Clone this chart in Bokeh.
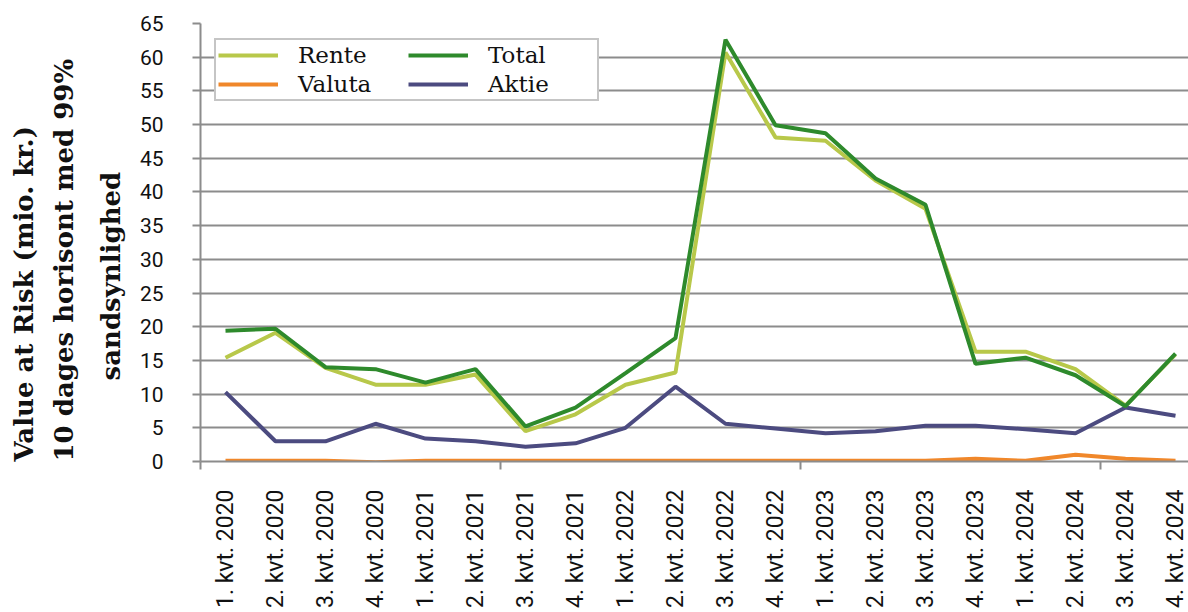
import math
from bokeh.plotting import figure
from bokeh.models import Range1d, FixedTicker, Legend, LegendItem, Title
from bokeh.embed import file_html
from bokeh.resources import INLINE

categories = ["1. kvt. 2020", "2. kvt. 2020", "3. kvt. 2020", "4. kvt. 2020",
              "1. kvt. 2021", "2. kvt. 2021", "3. kvt. 2021", "4. kvt. 2021",
              "1. kvt. 2022", "2. kvt. 2022", "3. kvt. 2022", "4. kvt. 2022",
              "1. kvt. 2023", "2. kvt. 2023", "3. kvt. 2023", "4. kvt. 2023",
              "1. kvt. 2024", "2. kvt. 2024", "3. kvt. 2024", "4. kvt. 2024"]
rente = [15.4, 19.1, 13.9, 11.4, 11.4, 12.9, 4.5, 7.0, 11.4, 13.2,
         60.7, 48.1, 47.6, 41.7, 37.5, 16.3, 16.3, 13.7, 8.3, 15.9]
total = [19.4, 19.7, 14.0, 13.7, 11.7, 13.7, 5.2, 8.0, 13.1, 18.3,
         62.6, 49.9, 48.7, 42.0, 38.1, 14.5, 15.4, 12.8, 8.2, 16.0]
valuta = [0.1, 0.1, 0.1, -0.1, 0.1, 0.1, 0.1, 0.1, 0.1, 0.1,
          0.1, 0.1, 0.1, 0.1, 0.1, 0.4, 0.1, 1.0, 0.4, 0.1]
aktie = [10.3, 3.0, 3.0, 5.6, 3.4, 3.0, 2.2, 2.7, 5.0, 11.1,
         5.6, 4.9, 4.2, 4.5, 5.3, 5.3, 4.8, 4.2, 8.0, 6.8]
y_ticks = list(range(0, 70, 5))
ylabel_lines = ["Value at Risk (mio. kr.)", "10 dages horisont med 99%", "sandsynlighed"]

x = list(range(len(categories)))

p = figure(width=1188, height=612, output_backend="svg", toolbar_location=None,
           x_range=Range1d(-0.5, 19.26), y_range=Range1d(0, 65),
           min_border_left=200, min_border_right=0, min_border_top=23, min_border_bottom=151)
p.outline_line_color = None
p.background_fill_color = "white"

grid_col = "#8c8c8c"
p.xgrid.grid_line_color = None
p.ygrid.grid_line_color = grid_col
p.ygrid.grid_line_width = 2
p.ygrid.ticker = FixedTicker(ticks=y_ticks)

p.yaxis.ticker = FixedTicker(ticks=y_ticks)
p.yaxis.axis_line_color = grid_col
p.yaxis.axis_line_width = 2
p.yaxis.major_tick_line_color = grid_col
p.yaxis.major_tick_line_width = 2
p.yaxis.major_tick_in = 0
p.yaxis.major_tick_out = 8
p.yaxis.minor_tick_line_color = None
p.yaxis.major_label_standoff = 29
p.yaxis.major_label_text_font = "Roboto"
p.yaxis.major_label_text_font_size = "21px"
p.yaxis.major_label_text_color = "#111111"

# y-axis title: one Title per line, innermost first
title_offsets = [0, 0, 81]
title_standoffs = [8, 8, 22]
for txt, off, so in reversed(list(zip(ylabel_lines, title_offsets, title_standoffs))):
    p.add_layout(Title(text=txt, align="left", offset=off,
                       text_font="DejaVu Serif", text_font_style="bold",
                       text_font_size="26px", text_color="#111111",
                       standoff=so), "left")

p.xaxis.ticker = FixedTicker(ticks=x, minor_ticks=[-0.5, 5.5, 11.5, 17.5])
p.xaxis.major_label_overrides = {i: c for i, c in enumerate(categories)}
p.xaxis.major_label_orientation = math.pi / 2
p.xaxis.axis_line_color = grid_col
p.xaxis.axis_line_width = 2
p.xaxis.major_tick_line_color = None
p.xaxis.major_tick_in = 0
p.xaxis.major_tick_out = 0
p.xaxis.minor_tick_line_color = grid_col
p.xaxis.minor_tick_line_width = 2
p.xaxis.minor_tick_in = 0
p.xaxis.minor_tick_out = 8
p.xaxis.major_label_standoff = 20
p.xaxis.major_label_text_font = "Roboto"
p.xaxis.major_label_text_font_size = "23px"
p.xaxis.major_label_text_color = "#111111"

c_rente = "#b8c84a"
c_total = "#2e8a2c"
c_valuta = "#f0872a"
c_aktie = "#4c4b80"

lw = 4
r_val = p.line(x, valuta, line_color=c_valuta, line_width=lw)
r_akt = p.line(x, aktie, line_color=c_aktie, line_width=lw)
r_ren = p.line(x, rente, line_color=c_rente, line_width=lw)
r_tot = p.line(x, total, line_color=c_total, line_width=lw)

legend = Legend(items=[LegendItem(label="Rente", renderers=[r_ren]),
                       LegendItem(label="Total", renderers=[r_tot]),
                       LegendItem(label="Valuta", renderers=[r_val]),
                       LegendItem(label="Aktie", renderers=[r_akt])],
                orientation="horizontal", ncols=2,
                location=(14, 360), padding=2, spacing=3, margin=0,
                glyph_width=60, glyph_height=24, label_standoff=20,
                label_width=107, label_height=24,
                label_text_font="DejaVu Serif", label_text_font_size="23px",
                label_text_color="#111111",
                border_line_color="#8c8c8c", border_line_width=2,
                background_fill_color="white", background_fill_alpha=1)
p.add_layout(legend, "center")

open("out.html", "w").write(file_html(p, INLINE))
